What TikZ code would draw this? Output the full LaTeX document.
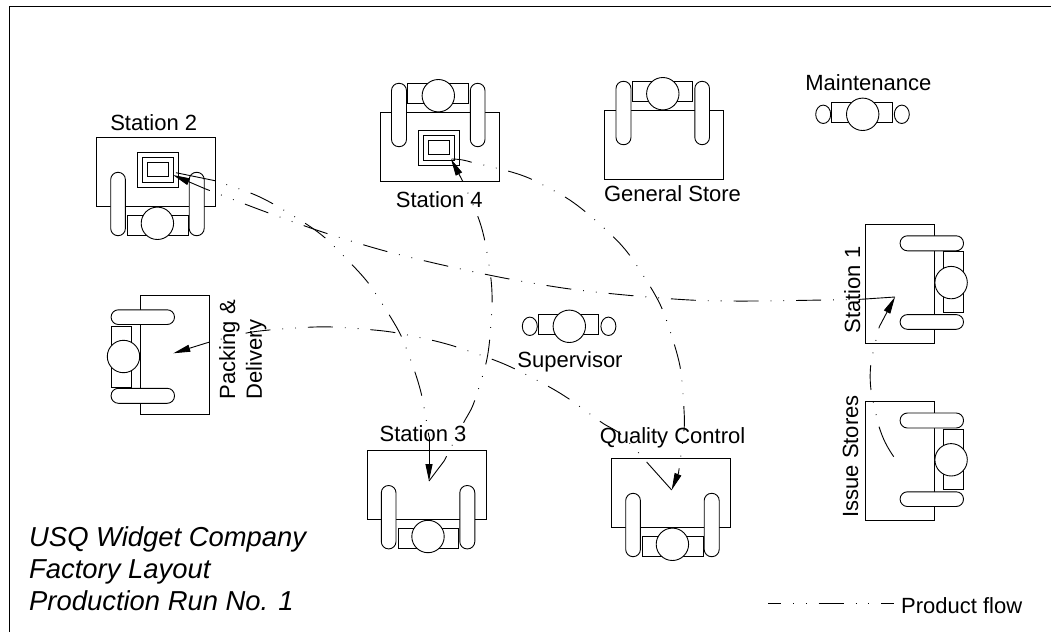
\documentclass[tikz,border=0pt]{standalone}
\usepackage{fontspec}
\setmainfont{Liberation Sans}
\usetikzlibrary{arrows.meta}

\tikzset{
  desk/.style={draw=black, line width=0.9pt, line join=miter},
  bench/.pic={
    \draw[desk] (-59.5,-34.3) rectangle (59.5,34.3);
    \draw[desk, fill=white, rounded corners=7.3pt] (-48,-63.7) rectangle (-33,-0.3);
    \draw[desk, fill=white, rounded corners=7.3pt] (30.8,-63.7) rectangle (45.5,-0.3);
    \draw[desk, fill=white] (-32,-63.7) rectangle (28.5,-43.7);
    \draw[desk, fill=white] (-1.2,-51.3) circle[radius=16.2pt];
  },
  person/.pic={
    \draw[desk, fill=white] (-31,-12.2) rectangle (29.6,7.8);
    \draw[desk, fill=white] (0,0) circle[radius=16.2pt];
    \draw[desk] (-39.5,0) ellipse[x radius=7.5pt, y radius=9.2pt];
    \draw[desk] (39.1,0) ellipse[x radius=7.5pt, y radius=9.2pt];
  },
  parts/.pic={
    \draw[desk] (-20.6,-17.5) rectangle (20.6,17.5);
    \draw[desk] (-15.6,-12.2) rectangle (15.6,12.2);
    \draw[desk] (-10.4,-7) rectangle (10.4,7);
  }
}

\begin{document}
\begin{tikzpicture}[
  x=1pt, y=-1pt,
  lab/.style={font=\fontsize{22}{26.7}\selectfont, inner sep=0pt, anchor=base},
  title/.style={font=\fontsize{27.4}{32}\selectfont\itshape, inner sep=0pt,
    anchor=north west, align=left},
  flow/.style={line width=0.9pt, dash pattern=on 25pt off 12pt on 0.8pt off 12pt on 0.8pt off 12pt,
    dash phase=25pt},
  leg/.style={line width=0.9pt},
  head/.style={line width=0.9pt, -{Triangle[length=17pt, width=7pt]}}
]
\useasboundingbox (0,0) rectangle (1051,632);

% ── Frame ────────────────────────────────────────────────────────────────────
\draw[line width=1pt] (9,632) -- (9,6) -- (1051,6);

% ── Work stations ────────────────────────────────────────────────────────────
\pic at (156.2,172) [rotate=180] {bench};
\pic at (158.2,169.8) {parts};
\pic at (439.5,147) {bench};
\pic at (438.7,147.8) {parts};
\pic at (664,145) {bench};
\pic at (899.8,283.8) [rotate=-90] {bench};
\pic at (899.8,461) [rotate=-90] {bench};
\pic at (174.8,355.3) [rotate=90] {bench};
\pic at (426.8,485.2) [rotate=180] {bench};
\pic at (671.2,493) [rotate=180] {bench};
\pic at (862.7,114.3) {person};
\pic at (569.3,326.3) {person};

% ── Labels ───────────────────────────────────────────────────────────────────
\node[lab] (stTwo) at (153.7,130.7) {Station 2};
\node[lab] (stFour) at (439.3,207.3) {Station 4};
\node[lab] (general) at (672.5,201.7) {General Store};
\node[lab] (maint) at (868.3,90) {Maintenance};
\node[lab] (super) at (570,367.8) {Supervisor};
\node[lab] (stThree) at (423,441.7) {Station 3};
\node[lab] (quality) at (672.5,443.3) {Quality Control};
\node[lab, rotate=90] (stOne) at (860,290) {Station 1};
\node[lab, rotate=90] (issue) at (858,456.5) {Issue Stores};
\node[lab, rotate=90, anchor=north west, align=left] (packing) at (219,399.5) {Packing \&\\Delivery};
\node[title] (company) at (29,526) {USQ Widget Company\\Factory Layout\\Production Run No. 1};
\node[lab, anchor=base west] (legend) at (901,613.3) {Product flow};

% ── Flow ends ────────────────────────────────────────────────────────────────
\coordinate (inOne) at (895,297);
\coordinate (inTwo) at (173,175);
\coordinate (inThree) at (429,481);
\coordinate (inFour) at (451,159);
\coordinate (inQuality) at (671.7,490);
\coordinate (inPacking) at (173.3,353.3);
\coordinate (fromIssue) at (893.7,456.7);
\coordinate (fromTwo) at (176,172.7);
\coordinate (fromFour) at (451.7,159);

% ── Issue Stores to Station 1 ────────────────────────────────────────────────
\coordinate (a1) at (879,426.7);
\coordinate (a2) at (879.3,326.7);
\draw[leg] (fromIssue) to[bend left=8] (a1);
\draw[flow] plot[smooth] coordinates {(a1) (871,390) (871,363) (a2)};
\draw[head] (a2) -- (inOne);

% ── Station 1 to Station 2 ───────────────────────────────────────────────────
\coordinate (b1) at (860.7,299.3);
\coordinate (b2) at (205,188.7);
\draw[leg] (inOne) -- (b1);
\draw[flow, dash phase=23pt] plot[smooth] coordinates {(b1) (758,301) (696,300.3) (632.7,295.7) (570,289)
  (507.7,278.7) (445.7,265.7) (384,250.7) (323.3,232.3) (263.3,211) (b2)};
\draw[head] (b2) -- (inTwo);

% ── Station 2 to Station 3 ───────────────────────────────────────────────────
\coordinate (c1) at (215,180.7);
\coordinate (c2) at (429,437);
\draw[leg] (fromTwo) -- (c1);
\draw[flow] plot[smooth] coordinates {(c1) (251.3,193.3) (273.3,204) (306.7,224.3) (326.7,239.3)
  (353.3,266) (370,285.3) (390.7,317.3) (402.7,339.3) (416,375.3) (422.7,400) (c2)};
\draw[head] (c2) -- (inThree);

% ── Station 3 to Station 4 ───────────────────────────────────────────────────
\coordinate (d1) at (444.3,460.7);
\coordinate (d2) at (463,181.7);
\draw[leg] (inThree) -- (d1);
\draw[flow, dash phase=20pt] plot[smooth] coordinates {(d1) (463.3,423.3) (473.3,404.3) (485,367.3)
  (489.3,343.3) (492,305) (491,279.3) (485,241.7) (478.3,217.7) (d2)};
\draw[head] (d2) -- (inFour);

% ── Station 4 to Quality Control ─────────────────────────────────────────────
\coordinate (e1) at (471.7,162.3);
\coordinate (e2) at (678.5,473);
\draw[leg] (fromFour) to[bend left=8] (e1);
\draw[flow] plot[smooth] coordinates {(e1) (508,171) (531.7,179.3) (565,197) (586,212.3) (614.3,237.7)
  (630.7,256.7) (651.7,289) (663.3,311.7) (675.3,347.7) (681,372.3) (684,410) (684,430) (e2)};
\draw[head] (e2) -- (inQuality);

% ── Quality Control to Packing ───────────────────────────────────────────────
\coordinate (g1) at (649.3,465);
\coordinate (g2) at (207.3,342.7);
\draw[leg] (inQuality) -- (g1);
\draw[flow, dash phase=21pt] plot[smooth] coordinates {(g1) (621.7,435) (602,422.7) (571,400.3) (550,387.3)
  (515.7,369.3) (493.3,359.7) (456.7,347) (432.3,340.3) (395.7,332.7) (370.7,329.7)
  (332.7,327) (307.3,327.3) (269.3,330) (245,333.3) (g2)};
\draw[head] (g2) -- (inPacking);

% ── Legend ───────────────────────────────────────────────────────────────────
\coordinate (keyA) at (768,603.5);
\coordinate (keyB) at (894,603.5);
\draw[flow, dash phase=12pt] (keyA) -- (keyB);

\end{tikzpicture}
\end{document}
